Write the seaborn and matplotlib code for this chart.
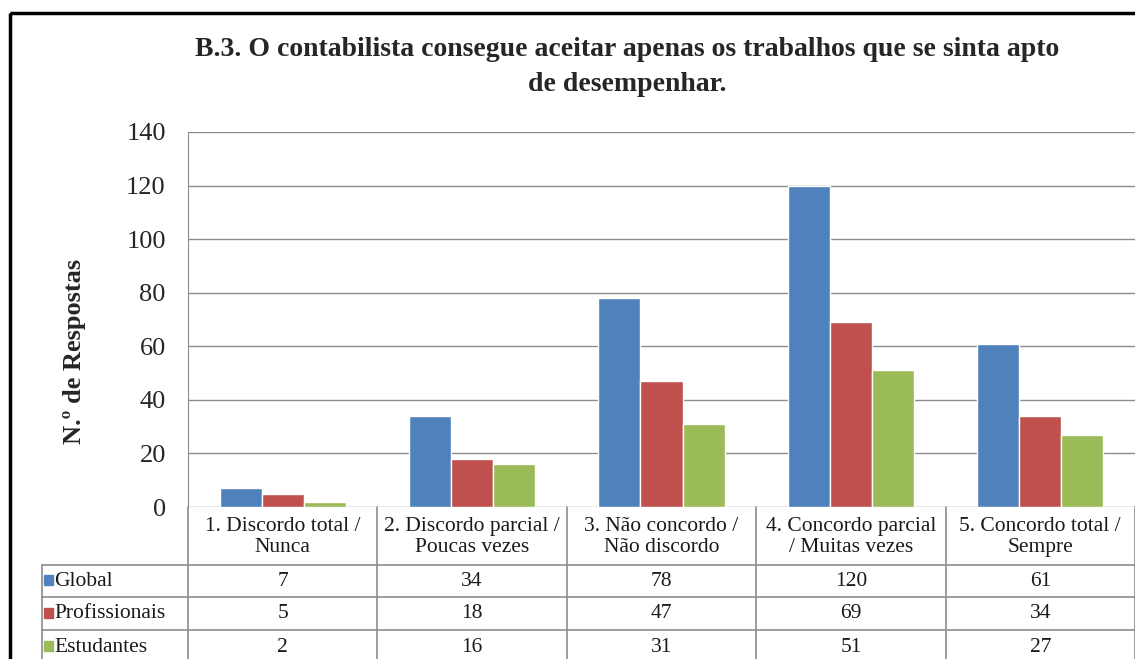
import numpy as np
import pandas as pd
import matplotlib.pyplot as plt
import matplotlib.transforms as mtransforms
from matplotlib.patches import Rectangle
import seaborn as sns

# ── Data ──────────────────────────────────────────────────────────────────────
categories = [
    "1. Discordo total /\nNunca",
    "2. Discordo parcial /\nPoucas vezes",
    "3. Não concordo /\nNão discordo",
    "4. Concordo parcial\n/ Muitas vezes",
    "5. Concordo total /\nSempre",
]
series_names = ["Global", "Profissionais", "Estudantes"]
global_vals = [7, 34, 78, 120, 61]
prof_vals = [5, 18, 47, 69, 34]
est_vals = [2, 16, 31, 51, 27]
colours = ["#4F81BD", "#C0504D", "#9BBB59"]
title = "B.3. O contabilista consegue aceitar apenas os trabalhos que se sinta apto\nde desempenhar."

df = pd.DataFrame({
    "cat": categories * 3,
    "serie": np.repeat(series_names, len(categories)),
    "valor": global_vals + prof_vals + est_vals,
})

sns.set_style("white")
plt.rcParams["font.family"] = ["Liberation Serif", "DejaVu Serif"]

W, H = 1135, 659
fig = plt.figure(figsize=(W / 100, H / 100), dpi=100)

# pixel-space overlay for frame and table
ax_t = fig.add_axes([0, 0, 1, 1], zorder=0)
ax_t.set_xlim(0, W)
ax_t.set_ylim(H, 0)
ax_t.axis("off")

# main plot area
left, right, top, bottom = 188, 1135, 132, 507
ax = fig.add_axes([left / W, 1 - bottom / H, (right - left) / W, (bottom - top) / H], zorder=2)
ax.patch.set_alpha(0)

sns.barplot(data=df, x="cat", y="valor", hue="serie", hue_order=series_names,
            palette=colours, width=0.667, saturation=1, ax=ax, legend=False)
ax.set_ylim(0, 140)
ax.set_yticks(range(0, 141, 20))
ax.set_xlim(-0.5, len(categories) - 0.5)
ax.yaxis.grid(True, color="#8C8C8C", linewidth=1)
ax.set_axisbelow(True)
ax.set_xticks([])
ax.set_xlabel("")
ax.set_ylabel("")
ax.tick_params(axis="y", labelsize=19, length=0, pad=16)
for s in ["top", "right", "bottom"]:
    ax.spines[s].set_visible(False)
ax.spines["left"].set_color("#8C8C8C")

fig.text(74 / W, 1 - 351 / H, "N.º de Respostas", rotation=90, ha="center", va="center",
         fontsize=19, fontweight="bold")

fig.text(627 / W, 1 - 67 / H, title, ha="center", va="center",
         fontsize=20, fontweight="bold", linespacing=1.5)

# outer frame (cropped on the right / bottom)
ax_t.add_patch(Rectangle((10, 13), 1200, 800, fill=False, edgecolor="black",
                         linewidth=2.5, clip_on=False))

# ── Data table ────────────────────────────────────────────────────────────────
trans = mtransforms.blended_transform_factory(ax.transData, ax_t.transData)
grid_c = "#8C8C8C"
row_y = [507, 565, 597, 630, 665]
n = len(categories)
for i in range(n + 1):
    ax_t.plot([i - 0.5, i - 0.5], [row_y[0], H], transform=trans,
              color=grid_c, lw=1.2, clip_on=False)
for y in row_y[1:4]:
    ax_t.plot([42, W], [y, y], color=grid_c, lw=1.2)
ax_t.plot([42, 42], [row_y[1], H], color=grid_c, lw=1.2)

tfs = 15.5
for i, cat in enumerate(categories):
    ax_t.text(i, (row_y[0] + row_y[1]) / 2 + 1, cat, transform=trans,
              ha="center", va="center", fontsize=tfs, linespacing=1.1,
              color="#1a1a1a")

all_vals = [global_vals, prof_vals, est_vals]
for r, (name, vals, col) in enumerate(zip(series_names, all_vals, colours)):
    yc = (row_y[r + 1] + row_y[r + 2]) / 2 if r < 2 else 647
    ax_t.add_patch(Rectangle((44, yc - 6), 9, 10, color=col))
    ax_t.text(54, yc, name, ha="left", va="center", fontsize=tfs, color="#1a1a1a")
    for i, v in enumerate(vals):
        ax_t.text(i, yc, str(v), transform=trans, ha="center", va="center",
                  fontsize=tfs, color="#1a1a1a")

fig.savefig("out.png", dpi=100)
